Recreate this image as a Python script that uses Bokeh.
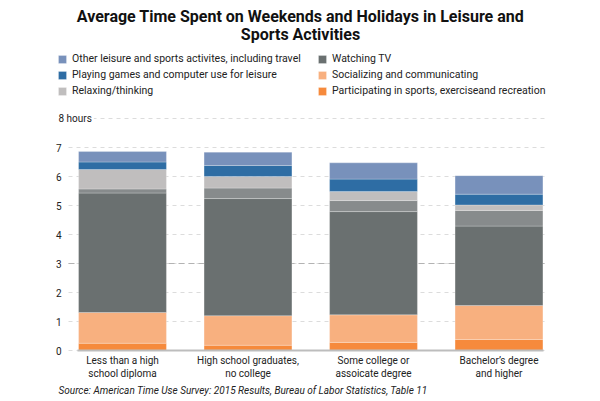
from bokeh.plotting import figure
from bokeh.models import Range1d, FixedTicker, Label, Legend, LegendItem, Grid, ColumnDataSource
from bokeh.embed import file_html
from bokeh.resources import INLINE

categories = ["Less than a high\nschool diploma", "High school graduates,\nno college",
              "Some college or\nassoicate degree", "Bachelor\u2019s degree\nand higher"]
sports = [0.25, 0.18, 0.28, 0.38]
socializing = [1.06, 1.02, 0.95, 1.17]
watching_tv = [4.12, 4.04, 3.56, 2.74]
reading = [0.14, 0.36, 0.38, 0.54]
relaxing = [0.67, 0.40, 0.31, 0.19]
games = [0.26, 0.38, 0.43, 0.37]
other = [0.36, 0.46, 0.56, 0.64]
y_ticks = [0, 1, 2, 3, 4, 5, 6, 7, 8]
dark_ticks = [3]

series_keys = ["sports", "socializing", "watching_tv", "reading", "relaxing", "games", "other"]
series_colors = ["#f68a3c", "#f8b07f", "#6a7070", "#878b8c", "#c0bebe", "#2e6da4", "#7891bb"]
legend_names = {
    "other": "Other leisure and sports activites, including travel",
    "games": "Playing games and computer use for leisure",
    "relaxing": "Relaxing/thinking",
    "watching_tv": "Watching TV",
    "socializing": "Socializing and communicating",
    "sports": "Participating in sports, exerciseand recreation",
}
legend_order = ["other", "games", "relaxing", "watching_tv", "socializing", "sports"]

xs = list(range(len(categories)))
source = ColumnDataSource(dict(x=xs, sports=sports, socializing=socializing, watching_tv=watching_tv,
                               reading=reading, relaxing=relaxing, games=games, other=other))

FONT = "Roboto"
W, H = 600, 401
PX_X = 125.5      # pixels per category
X0 = 122.0        # pixel of first category centre
PX_Y = 29.0       # pixels per hour
Y0 = 350.0        # pixel of zero hours

def dx(px):
    return (px - X0) / PX_X

p = figure(width=W, height=H, output_backend="svg", toolbar_location=None, title=None,
           x_range=Range1d(dx(0), dx(W)), y_range=Range1d(-(H - Y0) / PX_Y, Y0 / PX_Y),
           min_border=0)
p.outline_line_color = None
p.background_fill_color = "white"
p.border_fill_color = "white"

renderers = p.vbar_stack(series_keys, x="x", width=0.70, color=series_colors, source=source,
                         line_color="white", line_alpha=0.3, line_width=0.8)
rmap = dict(zip(series_keys, renderers))

# grid
p.xgrid.grid_line_color = None
yg = p.ygrid[0]
yg.ticker = FixedTicker(ticks=y_ticks)
yg.grid_line_color = "#dcdcdc"
yg.grid_line_dash = "4 4"
yg.grid_line_width = 1
has_cb = "cross_bounds" in yg.properties()
if has_cb:
    yg.cross_bounds = (dx(68), dx(546))

# darker line at 3 hours
dg = Grid(dimension=1, ticker=FixedTicker(ticks=dark_ticks), grid_line_color="#b3b3b3",
          grid_line_dash="6 4", grid_line_width=1)
if has_cb:
    dg.cross_bounds = (dx(68), dx(546))
p.add_layout(dg)

# y axis (inside frame)
ya = p.yaxis[0]
ya.fixed_location = dx(66)
ya.ticker = FixedTicker(ticks=y_ticks)
ya.major_label_overrides = {8: ""}
ya.axis_line_color = None
ya.major_tick_line_color = None
ya.minor_tick_line_color = None
ya.major_tick_out = 0
ya.major_tick_in = 0
ya.major_label_standoff = 5
ya.major_label_text_font = FONT
ya.major_label_text_font_size = "10px"
ya.major_label_text_color = "#222222"

# x axis (inside frame at y=0)
xa = p.xaxis[0]
xa.fixed_location = 0
xa.bounds = (dx(77), dx(543))
xa.ticker = FixedTicker(ticks=xs)
xa.major_label_overrides = {i: c for i, c in zip(xs, categories)}
xa.axis_line_color = "#bdbdbd"
xa.axis_line_width = 2
xa.major_tick_line_color = None
xa.minor_tick_line_color = None
xa.major_tick_out = 0
xa.major_tick_in = 0
xa.major_label_standoff = 4
xa.major_label_text_font = FONT
xa.major_label_text_font_size = "10px"
xa.major_label_text_color = "#222222"

# "8 hours" label
eight = Label(x=56, y=8, x_units="screen", y_units="data", text="8 hours",
              text_font=FONT, text_font_size="10px", text_color="#222222",
              text_baseline="middle", background_fill_color="white",
              border_line_color=None, padding=2)
p.add_layout(eight)

# title
t1 = Label(x=W / 2, y=H - 15.5, x_units="screen", y_units="screen",
           text="Average Time Spent on Weekends and Holidays in Leisure and",
           text_font=FONT, text_font_style="bold", text_font_size="16px",
           text_align="center", text_baseline="middle", text_color="#111111")
t2 = Label(x=W / 2, y=H - 33.5, x_units="screen", y_units="screen",
           text="Sports Activities",
           text_font=FONT, text_font_style="bold", text_font_size="16px",
           text_align="center", text_baseline="middle", text_color="#111111")
p.add_layout(t1)
p.add_layout(t2)

# source
src = Label(x=58, y=H - 390, x_units="screen", y_units="screen",
            text="Source: American Time Use Survey: 2015 Results, Bureau of Labor Statistics, Table 11",
            text_font=FONT, text_font_style="italic", text_font_size="10px",
            text_baseline="middle", text_color="#222222")
p.add_layout(src)

# legend
items = [LegendItem(label=legend_names[k], renderers=[rmap[k]]) for k in legend_order]
legend = Legend(items=items, location=(57, H - 97), orientation="vertical", nrows=3,
                label_text_font=FONT, label_text_font_size="10.5px", label_text_color="#222222",
                glyph_width=10, glyph_height=10, label_height=11, label_standoff=5,
                label_width=242, spacing=3, padding=0, margin=0,
                border_line_color=None, background_fill_alpha=0)
p.add_layout(legend)

open("out.html", "w").write(file_html(p, INLINE))
